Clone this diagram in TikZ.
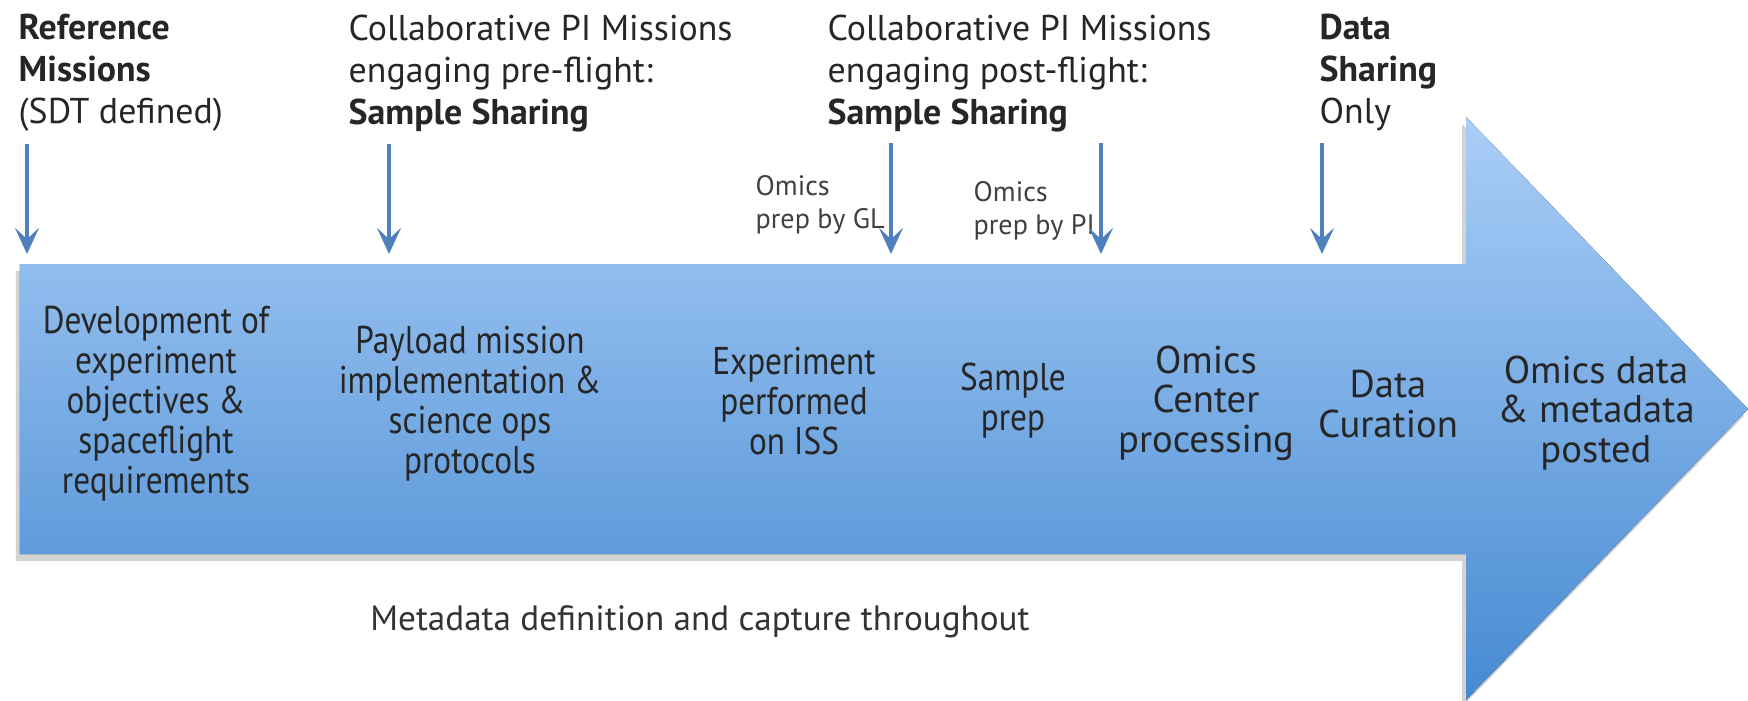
\documentclass[tikz,border=0pt]{standalone}
\usepackage{fontspec}
\setmainfont{PT Sans}
\newfontfamily\narrowfont[FakeStretch=0.86]{PT Sans}
\usetikzlibrary{arrows.meta,shadows}
\definecolor{pinblue}{RGB}{79,129,189}
\definecolor{bandtop}{RGB}{170,206,247}
\definecolor{bandbot}{RGB}{70,138,210}

\begin{document}
\begin{tikzpicture}
  [pin/.style={pinblue,line width=1pt,-{Stealth[length=2.6mm,width=2.4mm,inset=1.1mm]}},
   toplabel/.style={anchor=north west,align=left,inner sep=0pt,text=black!85,font=\fontsize{10.2}{12}\selectfont},
   preplabel/.style={anchor=north west,align=left,inner sep=0pt,text=black!75,font=\fontsize{8}{9.4}\selectfont},
   steplabel/.style={align=center,inner sep=0pt,text=black!85,font=\narrowfont\fontsize{11}{11.4}\selectfont},
   widelabel/.style={align=center,inner sep=0pt,text=black!85,font=\fontsize{11}{11.2}\selectfont}]
  \useasboundingbox (0,0) rectangle (17.48,7);

  % the big arrow
  \fill[top color=bandtop,bottom color=bandbot,
        drop shadow={shadow xshift=-0.4mm,shadow yshift=-0.7mm,opacity=0.35}]
    (0.20,4.36) -- (14.66,4.36) -- (14.66,5.83) -- (17.48,2.91)
    -- (14.66,0.0) -- (14.66,1.46) -- (0.20,1.46) -- cycle;

  % mission types
  \node[toplabel] (ref) at (0.18,6.87) {\textbf{Reference}\\\textbf{Missions}\\(SDT defined)};
  \node[toplabel] (pre) at (3.48,6.86) {Collaborative PI Missions\\engaging pre-flight:\\\textbf{Sample Sharing}};
  \node[toplabel] (post) at (8.27,6.86) {Collaborative PI Missions\\engaging post-flight:\\\textbf{Sample Sharing}};
  \node[toplabel] (data) at (13.19,6.87) {\textbf{Data}\\\textbf{Sharing}\\Only};

  \node[preplabel] (gl) at (7.55,5.25) {Omics\\prep by GL};
  \node[preplabel] (pi) at (9.73,5.19) {Omics\\prep by PI};

  % steps along the arrow
  \node[steplabel] (dev) at (1.56,2.96) {Development of\\experiment\\objectives \&\\spaceflight\\requirements};
  \node[steplabel] (load) at (4.70,2.96) {Payload mission\\implementation \&\\science ops\\protocols};
  \node[steplabel] (iss) at (7.94,2.99) {Experiment\\performed\\on ISS};
  \node[steplabel] (prep) at (10.13,2.99) {Sample\\prep};
  \node[widelabel] (ctr) at (12.06,2.97) {Omics\\Center\\processing};
  \node[widelabel] (cur) at (13.88,2.96) {Data\\Curation};
  \node[widelabel] (posted) at (15.96,2.87) {Omics data\\\& metadata\\posted};

  \node[font=\fontsize{10}{12}\selectfont,text=black!80] (meta) at (7.00,0.78) {Metadata definition and capture throughout};

  % entry points
  \coordinate (s1) at (0.27,5.56);
  \coordinate (e1) at (0.27,4.46);
  \coordinate (s2) at (3.89,5.56);
  \coordinate (e2) at (3.89,4.46);
  \coordinate (s3) at (8.91,5.57);
  \coordinate (e3) at (8.91,4.46);
  \coordinate (s4) at (11.01,5.57);
  \coordinate (e4) at (11.01,4.46);
  \coordinate (s5) at (13.22,5.57);
  \coordinate (e5) at (13.22,4.46);

  \draw[pin] (s1) -- (e1);
  \draw[pin] (s2) -- (e2);
  \draw[pin] (s3) -- (e3);
  \draw[pin] (s4) -- (e4);
  \draw[pin] (s5) -- (e5);
\end{tikzpicture}
\end{document}
